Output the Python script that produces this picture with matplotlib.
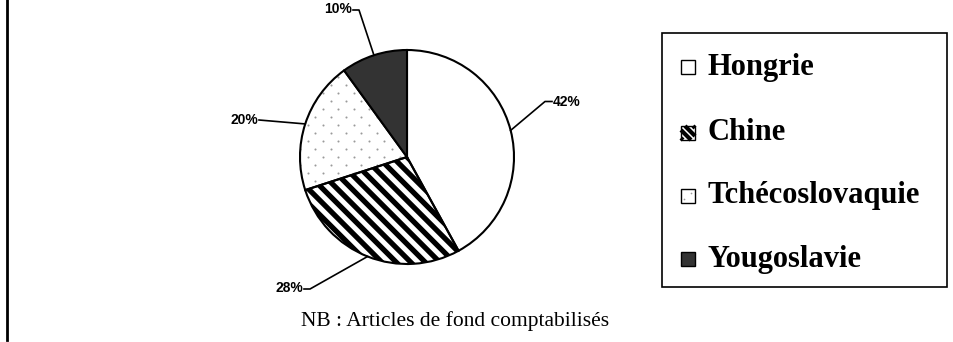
import numpy as np
import matplotlib
matplotlib.use("Agg")
import matplotlib.pyplot as plt
from matplotlib.patches import Rectangle, Wedge
from matplotlib.lines import Line2D

# Data
countries = ["Hongrie", "Chine", "Tchécoslovaquie", "Yougoslavie"]
shares = [42, 28, 20, 10]
pct_labels = ["42%", "28%", "20%", "10%"]
caption = "NB : Articles de fond comptabilisés"

W, H = 954, 342
fig = plt.figure(figsize=(W / 100, H / 100), dpi=100)
ax = fig.add_axes([0, 0, 1, 1])


def Y(y):
    """Convert a top-down pixel row to the upward data axis."""
    return H - y


cx, cy, r = 407, Y(157), 107
fills = ["white", "white", "white", "#333333"]

wedges, _ = ax.pie(shares, startangle=90, counterclock=False,
                   center=(cx, cy), radius=r, colors=fills,
                   wedgeprops=dict(edgecolor="black", linewidth=1.5))
ax.set_xlim(0, W)
ax.set_ylim(0, H)
ax.set_aspect("auto")
ax.axis("off")

chine, tch = wedges[1], wedges[2]
for w in wedges:
    w.set_zorder(2)
for w in (chine, tch):
    w.set_facecolor("none")
    ax.add_patch(Wedge((cx, cy), r, w.theta1, w.theta2,
                       facecolor="white", edgecolor="none", zorder=1))

# diagonal stripes for Chine
period = 14.5
for c in np.arange(-800, 1400, period):
    ln = Line2D([c - 400, c + 400], [400, -400], color="black",
                linewidth=3.8, solid_capstyle="butt", zorder=1.5)
    ax.add_line(ln)
    ln.set_clip_path(chine)

# dotted texture for Tchécoslovaquie
xs, ys = [], []
for i, yy in enumerate(np.arange(85 - 8 * 20, 85 + 8 * 30, 8.0)):
    off = 0 if i % 2 == 0 else 7.65
    for xx in np.arange(330.7 - 15.3 * 20 + off, 330.7 + 15.3 * 20, 15.3):
        xs.append(xx)
        ys.append(Y(yy))
sc = ax.scatter(xs, ys, s=2.2, color="#9a9a9a", linewidths=0, zorder=1.5)
sc.set_clip_path(tch)

# percentage labels with leader lines
lab_font = dict(family="Liberation Sans", weight="bold", fontsize=10)
mids = []
start = 90.0
for s in shares:
    mids.append(np.deg2rad(start - s * 3.6 / 2))
    start -= s * 3.6

label_pos = {
    "42%": ((553, 102), "left", [(552, 101.5), (545, 101.5)]),
    "28%": ((303, 288), "right", [(304, 289), (310, 289)]),
    "20%": ((258, 120), "right", [(259, 120)]),
    "10%": ((352, 9), "right", [(353, 10), (359, 10)]),
}
for lab, m in zip(pct_labels, mids):
    (tx, ty), ha, pts = label_pos[lab]
    ax.text(tx, Y(ty), lab, ha=ha, va="center", **lab_font)
    ex, ey = cx + r * np.cos(m), cy + r * np.sin(m)
    px = [p[0] for p in pts] + [ex]
    py = [Y(p[1]) for p in pts] + [ey]
    ax.plot(px, py, color="black", linewidth=1.2, zorder=3)

# legend box
ax.add_patch(Rectangle((662, Y(287)), 947 - 662, 287 - 33, facecolor="white",
                       edgecolor="black", linewidth=1.2, zorder=3))
leg_y = [67, 133, 196, 259]
leg_font = dict(family="Liberation Serif", weight="bold", fontsize=22)
sq_x, sq_s = 681, 14
for name, yy, fc in zip(countries, leg_y, fills):
    y0 = Y(yy) - sq_s / 2
    if name == "Chine":
        # stripes y = -x + c inside the square, clipped by hand
        for c in np.arange(2, 2 * sq_s, 8.0):
            x_a, x_b = max(0, c - sq_s), min(sq_s, c)
            if x_b - x_a < 0.5:
                continue
            ax.plot([sq_x + x_a, sq_x + x_b], [y0 + c - x_a, y0 + c - x_b],
                    color="black", linewidth=3.0, solid_capstyle="butt",
                    zorder=4)
    ax.add_patch(Rectangle((sq_x, y0), sq_s, sq_s,
                           facecolor="none" if name == "Chine" else fc,
                           edgecolor="black", linewidth=1.0, zorder=4.5))
    if name == "Tchécoslovaquie":
        ax.scatter([sq_x + 3, sq_x + 10], [y0 + 4, y0 + 10], s=1.5,
                   color="#9a9a9a", linewidths=0, zorder=5)
    ax.text(708, Y(yy), name, ha="left", va="center", zorder=5, **leg_font)

# caption
ax.text(455, Y(321), caption, ha="center", va="center",
        family="Liberation Serif", fontsize=15.5)

# left rule
ax.plot([7, 7], [H, Y(340)], color="black", linewidth=2)

fig.savefig("out.png", dpi=100)
